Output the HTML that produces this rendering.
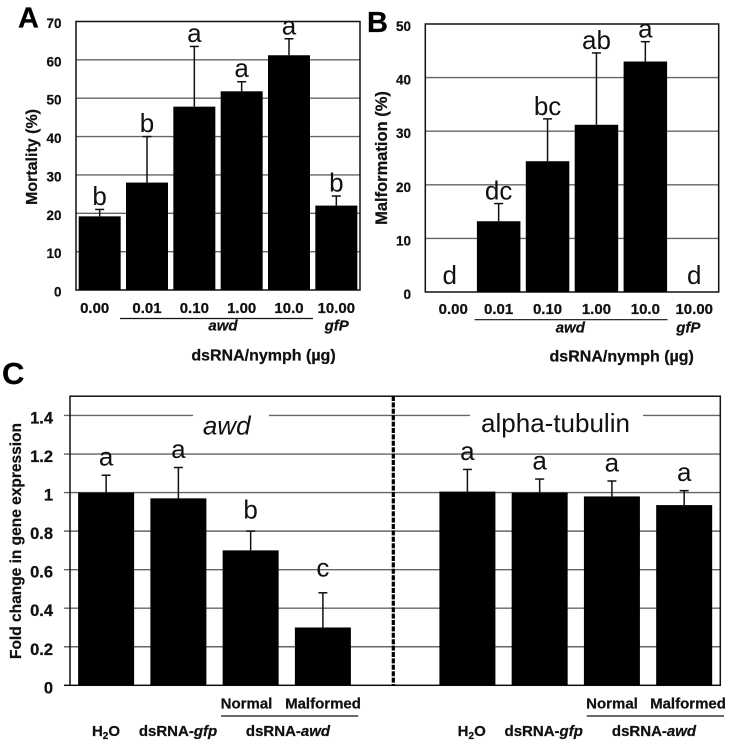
<!DOCTYPE html>
<html lang="en">
<head>
<meta charset="utf-8">
<title>dsRNA awd knockdown charts</title>
<style>
html,body{margin:0;padding:0;background:#fff;}
svg{display:block;font-family:"Liberation Sans",sans-serif;filter:blur(0.35px);}
.b{font-weight:700;fill:#111;stroke:#111;stroke-width:0.25px;}
.bi{font-weight:700;font-style:italic;fill:#111;stroke:#111;stroke-width:0.25px;}
</style>
</head>
<body>
<svg id="figure" xmlns="http://www.w3.org/2000/svg" width="732" height="745" viewBox="0 0 732 745">
  <text class="b" x="18" y="27.5" font-size="29" style="fill:#000">A</text>
  <text class="b" x="367" y="32" font-size="29" style="fill:#000">B</text>
  <text class="b" x="2" y="384" font-size="31" style="fill:#000">C</text>

  <text class="b" font-size="16" text-anchor="middle" transform="translate(37,157) rotate(-90)">Mortality (%)</text>
  <text class="b" font-size="16.5" text-anchor="middle" transform="translate(387,158) rotate(-90)">Malformation (%)</text>
  <text class="b" font-size="15.5" text-anchor="middle" transform="translate(21,541) rotate(-90)">Fold change in gene expression</text>

  <line x1="120" x2="313" y1="318.5" y2="318.5" stroke="#111" stroke-width="1.2"/>
  <text class="bi" font-size="15" text-anchor="middle" x="223" y="330.7">awd</text>
  <text class="bi" font-size="15" text-anchor="middle" x="336.7" y="330.7">gfP</text>
  <text class="b" font-size="16" text-anchor="middle" x="263.5" y="360.7">dsRNA/nymph (µg)</text>

  <line x1="474.5" x2="667.5" y1="319.7" y2="319.7" stroke="#111" stroke-width="1.2"/>
  <text class="bi" font-size="15" text-anchor="middle" x="570.3" y="332.7">awd</text>
  <text class="bi" font-size="15" text-anchor="middle" x="688.3" y="332.7">gfP</text>
  <text class="b" font-size="16" text-anchor="middle" x="621.7" y="361.7">dsRNA/nymph (µg)</text>

  <text class="b" font-size="15" text-anchor="middle" x="106" y="736">H<tspan font-size="10" dy="3">2</tspan><tspan dy="-3">O</tspan></text>
  <text class="b" font-size="15" text-anchor="middle" x="178" y="736">dsRNA-<tspan font-style="italic">gfp</tspan></text>
  <text class="b" font-size="15" text-anchor="middle" x="246.5" y="708.7">Normal</text>
  <text class="b" font-size="15" text-anchor="middle" x="323" y="708.7">Malformed</text>
  <line x1="221" x2="358.3" y1="716" y2="716" stroke="#111" stroke-width="1.3"/>
  <text class="b" font-size="15" text-anchor="middle" x="288" y="736">dsRNA-<tspan font-style="italic">awd</tspan></text>

  <text class="b" font-size="15" text-anchor="middle" x="471.7" y="736">H<tspan font-size="10" dy="3">2</tspan><tspan dy="-3">O</tspan></text>
  <text class="b" font-size="15" text-anchor="middle" x="543.7" y="736">dsRNA-<tspan font-style="italic">gfp</tspan></text>
  <text class="b" font-size="15" text-anchor="middle" x="612" y="708.7">Normal</text>
  <text class="b" font-size="15" text-anchor="middle" x="688" y="708.7">Malformed</text>
  <line x1="586.7" x2="724" y1="716" y2="716" stroke="#111" stroke-width="1.3"/>
  <text class="b" font-size="15" text-anchor="middle" x="654" y="736">dsRNA-<tspan font-style="italic">awd</tspan></text>
</svg>
<script>
// Panel A: mortality
const panelACategories = ['0.00', '0.01', '0.10', '1.00', '10.0', '10.00'];
const panelAValues = [19.2, 28, 47.8, 51.8, 61.2, 22];
const panelAErrors = [1.8, 12, 15.7, 2.5, 4.3, 2.5];
const panelALetters = ['b', 'b', 'a', 'a', 'a', 'b'];
const panelATicks = [0, 10, 20, 30, 40, 50, 60, 70];

// Panel B: malformation
const panelBCategories = ['0.00', '0.01', '0.10', '1.00', '10.0', '10.00'];
const panelBValues = [0, 13.2, 24.4, 31.2, 43, 0];
const panelBErrors = [0, 3.3, 7.9, 13.4, 3.7, 0];
const panelBLetters = ['d', 'dc', 'bc', 'ab', 'a', 'd'];
const panelBTicks = [0, 10, 20, 30, 40, 50];

// Panel C: fold change (the empty slot is the divider between genes)
const panelCCategories = ['awd H2O', 'awd dsRNA-gfp', 'awd Normal', 'awd Malformed', '', 'tubulin H2O', 'tubulin dsRNA-gfp', 'tubulin Normal', 'tubulin Malformed'];
const panelCValues = [1, 0.97, 0.7, 0.3, null, 1.005, 1, 0.98, 0.935];
const panelCErrors = [0.09, 0.16, 0.1, 0.18, null, 0.115, 0.07, 0.08, 0.075];
const panelCLetters = ['a', 'a', 'b', 'c', '', 'a', 'a', 'a', 'a'];
const panelCTicks = ['0', '0.2', '0.4', '0.6', '0.8', '1', '1.2', '1.4'];

const SVG_NS = 'http://www.w3.org/2000/svg';
const figure = document.getElementById('figure');

function make(tag, attrs, text) {
  const el = document.createElementNS(SVG_NS, tag);
  for (const key in attrs) el.setAttribute(key, attrs[key]);
  if (text !== undefined) el.textContent = text;
  figure.appendChild(el);
  return el;
}

function drawPanel(id, layout, categories, values, errors, letters, ticks) {
  const y = v => layout.bottom - (v / layout.max) * (layout.bottom - layout.top);
  const band = (layout.right - layout.left) / categories.length;
  const x = i => layout.left + band * (i + 0.5);

  ticks.forEach(t => {
    const value = Number(t);
    if (value !== 0 && value !== layout.max) {
      const grid = make('line', {x1: layout.left - layout.tick, x2: layout.right, y1: y(value), y2: y(value), stroke: '#666', 'stroke-width': 1.4});
      
      
    }
    const label = make('text', {x: layout.tickX, y: y(value) + layout.tickDy, 'text-anchor': 'end', 'font-size': layout.tickSize, class: 'b'}, t);
    
    
  });

  if (layout.gaps) {
    layout.gaps.forEach((g, i) => {
      const patch = make('rect', {x: g[0], y: y(1.4) - 3, width: g[1] - g[0], height: 6, fill: '#fff'});
      
      
    });
  }

  const frame = make('rect', {x: layout.left, y: layout.top, width: layout.right - layout.left, height: layout.bottom - layout.top, fill: 'none', stroke: '#111', 'stroke-width': 1.5});
  
  

  categories.forEach((category, i) => {
    if (values[i] === null) return;
    const v = values[i];
    const top = v + errors[i];
    const cx = x(i);
    if (v > 0) {
      const bar = make('rect', {x: cx - layout.barWidth / 2, y: y(v), width: layout.barWidth, height: y(0) - y(v), fill: '#000'});
      
      

      const stem = make('line', {x1: cx, x2: cx, y1: y(v), y2: y(top), stroke: '#111', 'stroke-width': 1.5});
      
      

      const cap = make('line', {x1: cx - 4.5, x2: cx + 4.5, y1: y(top), y2: y(top), stroke: '#111', 'stroke-width': 1.5});
      
      
    }
    const extra = layout.letterExtra && layout.letterExtra[letters[i]] ? layout.letterExtra[letters[i]] : 0;
    const gap = (v > 0 ? layout.letterGap : 8) + extra;
    const letter = make('text', {x: cx, y: y(top) - gap, 'text-anchor': 'middle', 'font-size': 26, fill: '#111'}, letters[i]);
    
    

    if (layout.xLabelY) {
      const shift = i === 0 ? layout.firstLabelShift : 0;
      const tickLabel = make('text', {x: cx + shift, y: layout.xLabelY, 'text-anchor': 'middle', 'font-size': 15, class: 'b'}, category);
      
      
    }
  });
}

drawPanel('panel-a', {left: 76, right: 360, top: 21.5, bottom: 290, max: 70, tick: 0, tickX: 61.5, tickDy: 6.5, tickSize: 13.5, barWidth: 42, letterGap: 4.5, xLabelY: 313, firstLabelShift: -5},
  panelACategories, panelAValues, panelAErrors, panelALetters, panelATicks);

drawPanel('panel-b', {left: 425.3, right: 718.7, top: 24, bottom: 292, max: 50, tick: 0, tickX: 411, tickDy: 7, tickSize: 13.5, barWidth: 43.5, letterGap: 4, xLabelY: 314, firstLabelShift: 3.5},
  panelBCategories, panelBValues, panelBErrors, panelBLetters, panelBTicks);

drawPanel('panel-c', {left: 70, right: 720.3, top: 396.2, bottom: 685.3, max: 1.5, tick: 6, tickX: 53, tickDy: 8, tickSize: 16.5, barWidth: 56, letterGap: 9.5, letterExtra: {b: 3, c: 7}, gaps: [[193, 269], [470, 643]]},
  panelCCategories, panelCValues, panelCErrors, panelCLetters, panelCTicks);

const baseTick = make('line', {x1: 64, x2: 70, y1: 685.3, y2: 685.3, stroke: '#111', 'stroke-width': 1.5});



const divider = make('line', {x1: 393.3, x2: 393.3, y1: 396, y2: 686, stroke: '#000', 'stroke-width': 3.2, 'stroke-dasharray': '5 1.4'});



const awdTitle = make('text', {x: 226.7, y: 434.3, 'text-anchor': 'middle', 'font-size': 26, 'font-style': 'italic', fill: '#111'}, 'awd');



const tubulinTitle = make('text', {x: 555.5, y: 432, 'text-anchor': 'middle', 'font-size': 26, fill: '#111'}, 'alpha-tubulin');


</script>
</body>
</html>
